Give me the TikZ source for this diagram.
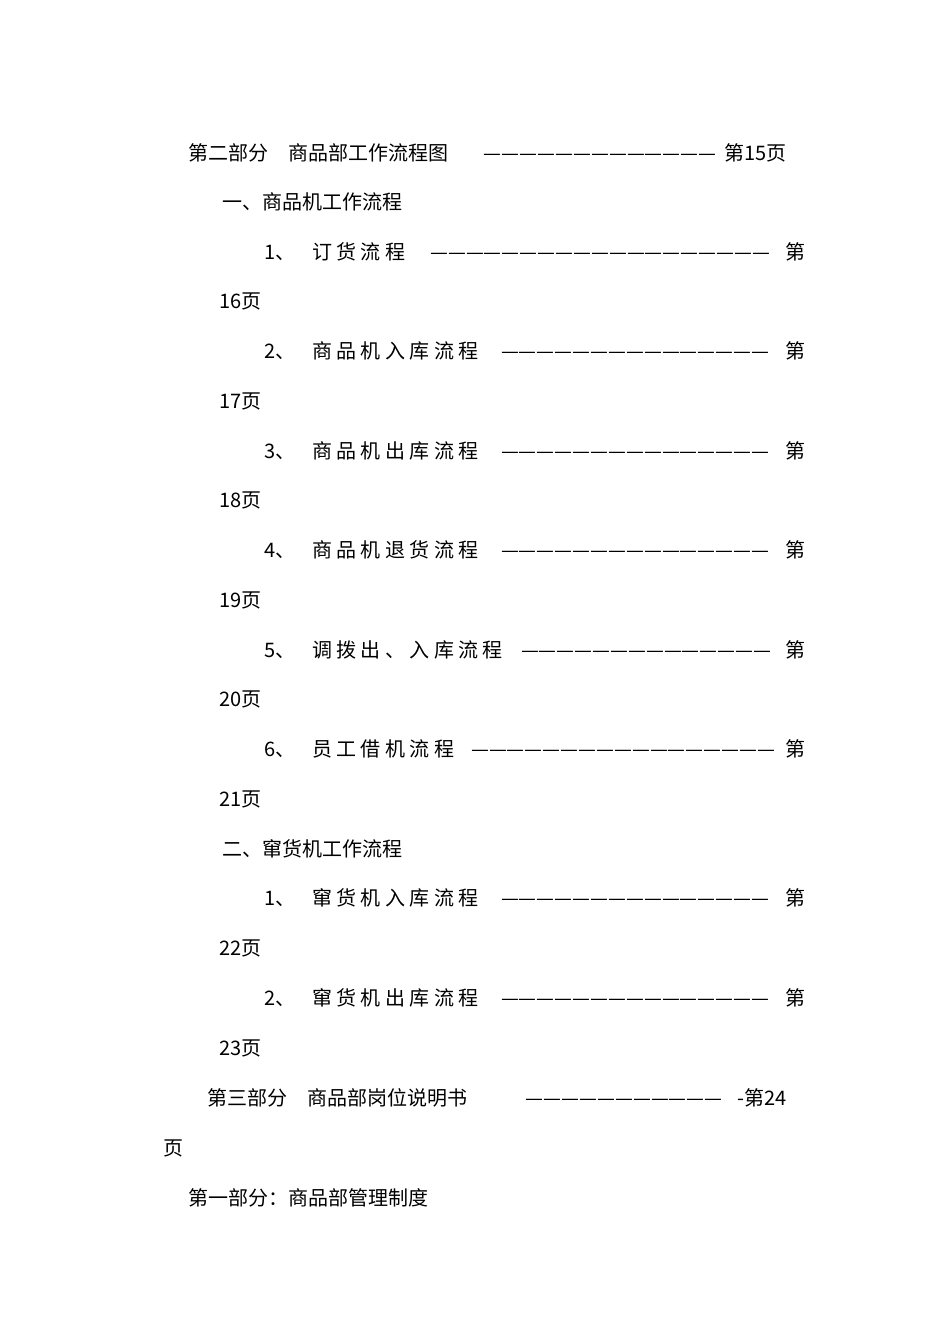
\documentclass[tikz,border=0pt]{standalone}
\usepackage{fontspec}
\setmainfont{Noto Sans CJK SC}
\newfontfamily\cjks[LetterSpace=22]{Noto Sans CJK SC}
\newcommand{\dashfill}[1]{\hbox to #1pt{\cleaders\hbox{—}\hfill}}
\begin{document}
\begin{tikzpicture}[x=1pt,y=-1pt,
  t/.style={anchor=base west,inner sep=0pt,font=\fontsize{20}{20}\selectfont},
  s/.style={t,font=\fontsize{20}{20}\cjks}]
\useasboundingbox (0,0) rectangle (950,1344);
\node[t] (a1) at (188,160) {第二部分\quad 商品部工作流程图};
\node[t] (a1d) at (478,160) {\dashfill{244}};
\node[t] (a1p) at (724,160) {第15页};
\node[t] (b1) at (222,209) {一、商品机工作流程};
% items
\node[t] (n1) at (264,259) {1、};
\node[s] (i1) at (312,259) {订货流程};
\node[t] (d1) at (422,259) {\dashfill{356}};
\node[t] (p1) at (785,259) {第};
\node[t] (q1) at (219,308) {16页};
\node[t] (n2) at (264,358) {2、};
\node[s] (i2) at (312,358) {商品机入库流程};
\node[t] (d2) at (492,358) {\dashfill{286}};
\node[t] (p2) at (785,358) {第};
\node[t] (q2) at (219,408) {17页};
\node[t] (n3) at (264,458) {3、};
\node[s] (i3) at (312,458) {商品机出库流程};
\node[t] (d3) at (492,458) {\dashfill{286}};
\node[t] (p3) at (785,458) {第};
\node[t] (q3) at (219,507) {18页};
\node[t] (n4) at (264,557) {4、};
\node[s] (i4) at (312,557) {商品机退货流程};
\node[t] (d4) at (492,557) {\dashfill{286}};
\node[t] (p4) at (785,557) {第};
\node[t] (q4) at (219,607) {19页};
\node[t] (n5) at (264,657) {5、};
\node[s] (i5) at (312,657) {调拨出、入库流程};
\node[t] (d5) at (514,657) {\dashfill{264}};
\node[t] (p5) at (785,657) {第};
\node[t] (q5) at (219,706) {20页};
\node[t] (n6) at (264,756) {6、};
\node[s] (i6) at (312,756) {员工借机流程};
\node[t] (d6) at (468,756) {\dashfill{310}};
\node[t] (p6) at (785,756) {第};
\node[t] (q6) at (219,806) {21页};
\node[t] (b2) at (222,856) {二、窜货机工作流程};
\node[t] (n7) at (264,905) {1、};
\node[s] (i7) at (312,905) {窜货机入库流程};
\node[t] (d7) at (492,905) {\dashfill{286}};
\node[t] (p7) at (785,905) {第};
\node[t] (q7) at (219,955) {22页};
\node[t] (n8) at (264,1005) {2、};
\node[s] (i8) at (312,1005) {窜货机出库流程};
\node[t] (d8) at (492,1005) {\dashfill{286}};
\node[t] (p8) at (785,1005) {第};
\node[t] (q8) at (219,1055) {23页};
\node[t] (c1) at (207,1105) {第三部分\quad 商品部岗位说明书};
\node[t] (c1d) at (520,1105) {\dashfill{208}};
\node[t] (c1p) at (737,1105) {-第24};
\node[t] (c2) at (163,1155) {页};
\node[t] (e1) at (188,1205) {第一部分：商品部管理制度};
\end{tikzpicture}
\end{document}
